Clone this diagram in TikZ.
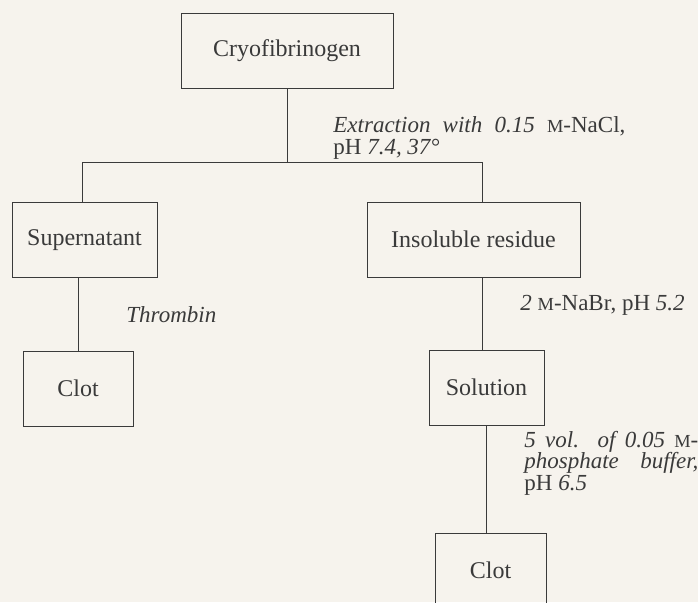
\documentclass[tikz,border=0pt]{standalone}
\usepackage{fontspec}
\setmainfont{Liberation Serif}
\usepackage{xcolor}
\usepackage{tikz}
\usetikzlibrary{positioning, calc}

\definecolor{paper}{HTML}{F6F3ED}
\definecolor{ink}{HTML}{3A3A3A}
\newcommand{\molar}{\scalebox{0.8}{M}}

\begin{document}
\begin{tikzpicture}[x=0.5pt, y=-0.5pt, font=\fontsize{12}{14}\selectfont, color=ink,
  box/.style={draw=ink, line width=0.5pt, minimum height=37.5pt, inner sep=0pt},
  note/.style={anchor=west, inner sep=0pt, align=left, font=\fontsize{11.5}{10.8}\selectfont},
  link/.style={draw=ink, line width=0.45pt}]
\fill[paper] (0,0) rectangle (698,602);
\useasboundingbox (0,0) rectangle (698,602);
% boxes
\node[box, minimum width=106pt] (cryo) at (287,50.5) {Cryofibrinogen};
\node[box, minimum width=72.5pt] (super) at (84.5,240) {Supernatant};
\node[box, minimum width=106.5pt] (insol) at (473.5,239.5) {Insoluble residue};
\node[box, minimum width=55pt] (clotL) at (78,388.5) {Clot};
\node[box, minimum width=57.5pt] (soln) at (486.5,387.5) {Solution};
\node[box, minimum width=55.5pt] (clotR) at (490.5,570.5) {Clot};
% branch point
\coordinate (bl) at (82,162);
\coordinate (br) at (482,162);
% connectors
\draw[link] (cryo.south) -- (cryo.south |- bl);
\draw[link] (bl |- super.north) -- (bl) -- (br) -- (br |- insol.north);
\draw[link] (clotL.north |- super.south) -- (clotL.north);
\draw[link] (br |- insol.south) -- (br |- soln.north);
\draw[link] (soln.south) -- (soln.south |- clotR.north);
% conditions
\node[note] (ext) at (333,138) {\makebox[146pt][s]{\textit{Extraction with 0.15} \molar-NaCl,}\\pH \textit{7.4, 37°}};
\node[note] (thr) at (126,315) {\textit{Thrombin}};
\node[note] (nabr) at (520,305) {\textit{2} \molar-NaBr, pH \textit{5.2}};
\node[note] (phos) at (524,463) {\makebox[87pt][s]{\textit{5 vol. of 0.05} \molar-}\\\makebox[87pt][s]{\textit{phosphate buffer,}}\\pH \textit{6.5}};
\end{tikzpicture}
\end{document}
